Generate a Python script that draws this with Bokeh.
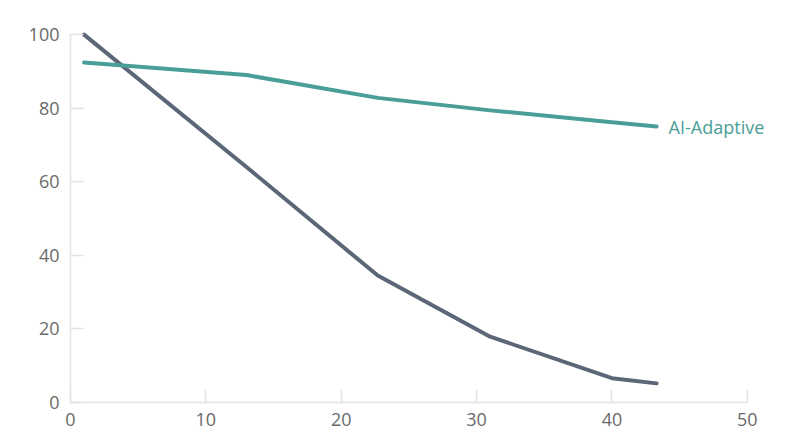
from bokeh.plotting import figure
from bokeh.models import Range1d, ColumnDataSource, FixedTicker
from bokeh.embed import file_html
from bokeh.resources import INLINE
from bokeh.core.properties import value

# data
x_vals = [1, 13, 22.7, 31, 40, 43.3]
ai_adaptive = [92.4, 89.0, 82.8, 79.4, 76.2, 75.0]
other = [100, 64, 34.5, 17.9, 6.6, 5.2]
series_label = "AI-Adaptive"
x_ticks = [0, 10, 20, 30, 40, 50]
y_ticks = [0, 20, 40, 60, 80, 100]

TEAL = "#4a9e98"
GREY = "#5b6677"
FONT = "Open Sans"

p = figure(width=784, height=439, output_backend="svg", toolbar_location=None,
           x_range=Range1d(0, 52.6), y_range=Range1d(0, 102.2),
           min_border_left=70, min_border_right=2, min_border_top=26, min_border_bottom=37)
p.outline_line_color = None
p.grid.grid_line_color = None
p.background_fill_color = "white"
p.border_fill_color = "white"

for ax in (p.xaxis[0], p.yaxis[0]):
    ax.axis_line_color = "#e3e3e3"
    ax.axis_line_width = 1.5
    ax.major_tick_line_color = "#e3e3e3"
    ax.major_tick_line_width = 1.5
    ax.major_tick_in = 13
    ax.major_tick_out = 0
    ax.minor_tick_line_color = None
    ax.major_label_text_font = FONT
    ax.major_label_text_font_size = "18px"
    ax.major_label_text_color = "#6a6a6a"

p.xaxis[0].ticker = FixedTicker(ticks=x_ticks)
p.yaxis[0].ticker = FixedTicker(ticks=y_ticks)
p.xaxis[0].bounds = (0, 50)
p.yaxis[0].bounds = (0, 100)
p.xaxis[0].major_label_standoff = 10
p.yaxis[0].major_label_standoff = 11

src = ColumnDataSource(dict(x=x_vals, a=ai_adaptive, o=other))
p.line("x", "o", source=src, line_color=GREY, line_width=4, line_join="round", line_cap="round")
p.line("x", "a", source=src, line_color=TEAL, line_width=4, line_join="round", line_cap="round")

lab = ColumnDataSource(dict(x=[x_vals[-1]], y=[ai_adaptive[-1]], t=[series_label]))
p.text("x", "y", text="t", source=lab, x_offset=12, text_baseline="middle", text_align="left",
       text_color=TEAL, text_font=value(FONT), text_font_size="18px")

open("out.html", "w").write(file_html(p, INLINE))
